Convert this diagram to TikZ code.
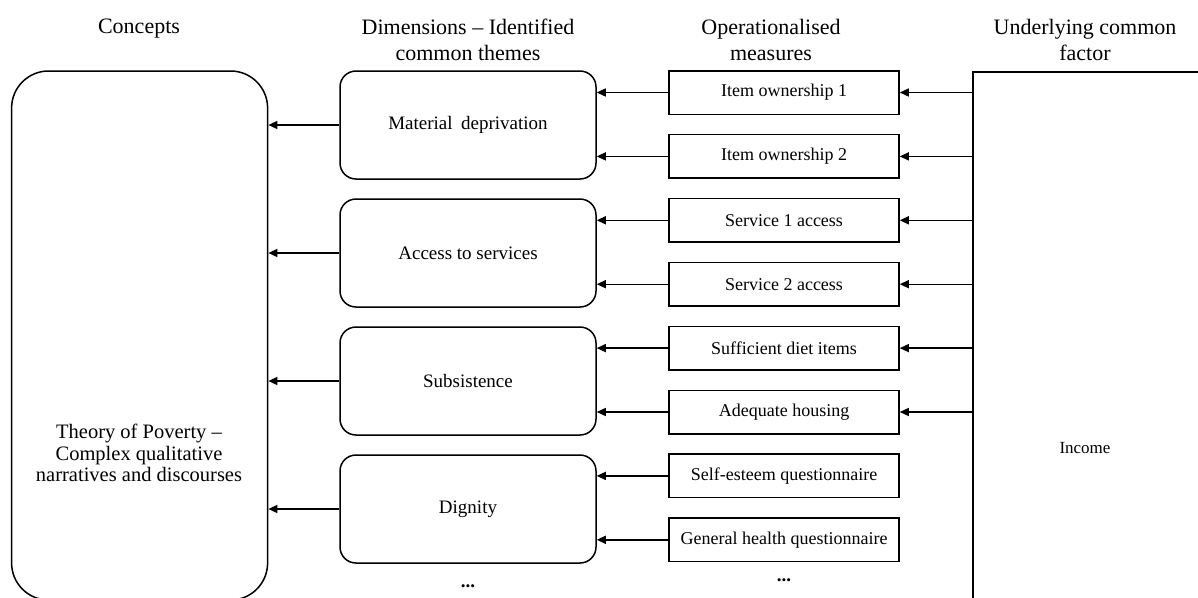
\documentclass[tikz,border=0pt]{standalone}
\usepackage{fontspec}
\setmainfont{Liberation Serif}
\usetikzlibrary{arrows.meta}
\begin{document}
\begin{tikzpicture}[x=1pt,y=-1pt,
  line width=1.5pt,
  header/.style={font=\fontsize{22}{26}\selectfont, align=center, anchor=north, inner sep=0pt},
  dimbox/.style={draw, rounded corners=16pt, minimum width=256pt, minimum height=108pt,
    font=\fontsize{19}{22}\selectfont, inner sep=0pt},
  measbox/.style={draw, minimum width=230pt, minimum height=43.5pt,
    font=\fontsize{18}{21}\selectfont, inner sep=0pt},
  arr/.style={-{Triangle[length=9pt,width=8pt]}, line width=1.4pt},
  dots/.style={font=\fontsize{19}{22}\selectfont\bfseries, anchor=base, inner sep=0pt},
]
\useasboundingbox (0,0) rectangle (1198,597);
\clip (0,0) rectangle (1198,597);

% column headers
\node[header] (hconcepts) at (139,18) {Concepts};
\node[header] (hdims) at (468,18) {Dimensions – Identified\\common themes};
\node[header] (hmeas) at (771,18) {Operationalised\\measures};
\node[header] (hfactor) at (1085,18) {Underlying common\\factor};

% concept box (left) and common factor box (right)
\node[draw, rounded corners=37pt, minimum width=256pt, minimum height=529pt, inner sep=0pt]
  (concept) at (139.6,335.5) {};
\node[font=\fontsize{20.5}{21.5}\selectfont, align=center] (theory) at (139,453)
  {Theory of Poverty –\\Complex qualitative\\narratives and discourses};
\node[draw, minimum width=240pt, minimum height=540pt, inner sep=0pt, anchor=north west]
  (factor) at (972,71) {};
\node[font=\fontsize{17}{20}\selectfont] (income) at (1085,448) {Income};

% dimensions
\node[dimbox] (d1) at (468,125) {Material\hspace{0.45em}deprivation};
\node[dimbox] (d2) at (468,253) {Access to services};
\node[dimbox] (d3) at (468,381) {Subsistence};
\node[dimbox] (d4) at (468,509) {Dignity};
\node[dots] (ddots) at (468,587) {...};

% operationalised measures
\node[measbox] (m1) at (784,92.5) {Item ownership 1};
\node[measbox] (m2) at (784,156.4) {Item ownership 2};
\node[measbox] (m3) at (784,220.3) {Service 1 access};
\node[measbox] (m4) at (784,284.2) {Service 2 access};
\node[measbox] (m5) at (784,348.1) {Sufficient diet items};
\node[measbox] (m6) at (784,412.0) {Adequate housing};
\node[measbox] (m7) at (784,475.9) {Self-esteem questionnaire};
\node[measbox] (m8) at (784,539.8) {General health questionnaire};
\node[dots] (mdots) at (784,581) {...};

% common factor -> measures
\foreach \m in {m1,m2,m3,m4,m5,m6}
  \draw[arr] (factor.west |- \m.east) -- (\m.east);

% measures -> dimensions
\foreach \m/\d in {m1/d1,m2/d1,m3/d2,m4/d2,m5/d3,m6/d3,m7/d4,m8/d4}
  \draw[arr] (\m.west) -- (\m.west -| \d.east);

% dimensions -> concept
\foreach \d in {d1,d2,d3,d4}
  \draw[arr] (\d.west) -- (\d.west -| concept.east);
\end{tikzpicture}
\end{document}
